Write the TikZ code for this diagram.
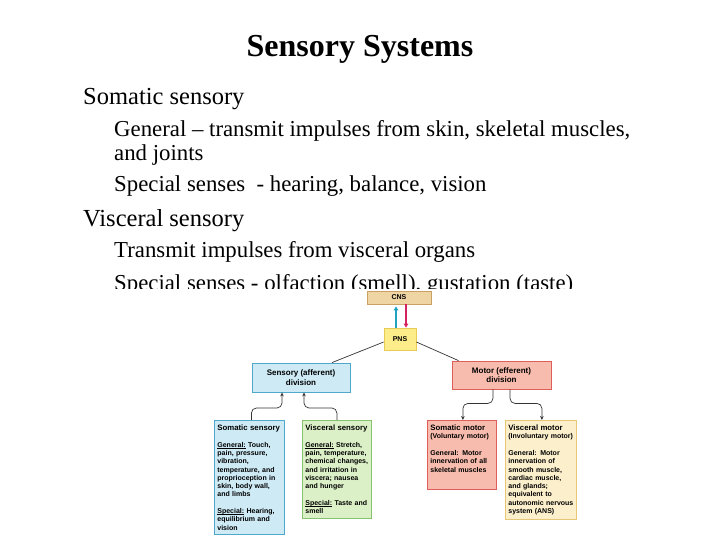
\documentclass[tikz,border=0pt]{standalone}
\usepackage{fontspec}
\setmainfont{Liberation Serif}
\newfontfamily\boxfont{Liberation Sans}
\usetikzlibrary{arrows.meta}
\definecolor{cnsfill}{HTML}{EFD5A4}
\definecolor{cnsline}{HTML}{C9A163}
\definecolor{pnsfill}{HTML}{FCEC8A}
\definecolor{pnsline}{HTML}{E6CB55}
\definecolor{sensfill}{HTML}{CDEAF5}
\definecolor{sensline}{HTML}{4FA8CB}
\definecolor{motfill}{HTML}{F7BCAD}
\definecolor{motline}{HTML}{DE5F59}
\definecolor{viscfill}{HTML}{DCF0C7}
\definecolor{viscline}{HTML}{86C36E}
\definecolor{vmotfill}{HTML}{FCF0CC}
\definecolor{vmotline}{HTML}{E7C678}
\definecolor{upcol}{HTML}{1EA2C0}
\definecolor{downcol}{HTML}{D42460}
\newcommand\uline[1]{\leavevmode\setbox0\hbox{#1}\rlap{\rule[-1.3pt]{\wd0}{0.45pt}}\box0\relax}
\newcommand\boxhead[1]{\mbox{\fontsize{7.8}{8.3}\selectfont #1}}

\begin{document}
\begin{tikzpicture}[x=1pt,y=1pt,
	textline/.style={anchor=base west, inner sep=0pt},
	lvlone/.style={textline, font=\fontsize{24.5}{29}\selectfont},
	lvltwo/.style={textline, font=\fontsize{22.8}{27}\selectfont},
	hdbox/.style={draw, line width=0.8pt, inner sep=0pt, align=center, font=\boxfont\bfseries\fontsize{8}{9.5}\selectfont},
	infobox/.style={draw, line width=0.8pt, anchor=north west, align=left, inner xsep=3pt, inner ysep=4.5pt, font=\boxfont\bfseries\fontsize{7}{8.3}\selectfont},
	conn/.style={draw=black!80, line width=0.7pt, rounded corners=5pt, -{Stealth[length=4pt,width=3.5pt]}}]

	\useasboundingbox (0,0) rectangle (720,-540);

	\node[font=\bfseries\fontsize{32}{38}\selectfont, anchor=base, inner sep=0pt] (title) at (360,-57) {Sensory Systems};
	\node[lvlone] (somatic) at (83,-105) {Somatic sensory};
	\node[lvltwo] (gen1) at (114,-137) {General – transmit impulses from skin, skeletal muscles,};
	\node[lvltwo] (gen2) at (114,-161) {and joints};
	\node[lvltwo] (spec1) at (114,-192) {Special senses\ \ - hearing, balance, vision};
	\node[lvlone] (visceral) at (83,-226) {Visceral sensory};
	\node[lvltwo] (trans) at (114,-258) {Transmit impulses from visceral organs};
	\begin{scope}
		\clip (0,-200) rectangle (720,-288);
		\node[lvltwo] (spec2) at (114,-290) {Special senses - olfaction (smell), gustation (taste)};
	\end{scope}

	\node[hdbox, fill=cnsfill, draw=cnsline, minimum width=64pt, minimum height=13pt, font=\boxfont\bfseries\fontsize{7}{8}\selectfont] (cns) at (399,-297.5) {CNS};
	\node[hdbox, fill=pnsfill, draw=pnsline, minimum width=32pt, minimum height=22pt, font=\boxfont\bfseries\fontsize{7}{8}\selectfont] (pns) at (400,-339) {PNS};
	\node[hdbox, fill=sensfill, draw=sensline, minimum width=98pt, minimum height=29pt] (sens) at (301,-377.5) {Sensory (afferent)\\division};
	\node[hdbox, fill=motfill, draw=motline, minimum width=99pt, minimum height=28pt] (motor) at (501.5,-375) {Motor (efferent)\\division};

	\draw[upcol, line width=1.6pt, -{Triangle[length=4pt,width=4.5pt]}] ([xshift=-4pt]pns.north) -- ([xshift=-3pt,yshift=-2pt]cns.south);
	\draw[downcol, line width=1.6pt, -{Triangle[length=4pt,width=4.5pt]}] ([xshift=7pt]cns.south) -- ([xshift=6pt]pns.north);
	\draw[black!80, line width=0.7pt] ([yshift=-3pt]pns.west) -- ([xshift=31pt]sens.north);
	\draw[black!80, line width=0.7pt] ([yshift=-3pt]pns.east) -- ([xshift=-43pt]motor.north);

	\node[infobox, fill=sensfill, draw=sensline, text width=64pt] (somsens) at (214,-420) {\boxhead{Somatic sensory}\\[8.3pt]
		\uline{General:} Touch,\\pain, pressure,\\vibration,\\temperature, and\\proprioception in\\skin, body wall,\\and limbs\\[8.3pt]
		\uline{Special:} Hearing,\\equilibrium and\\vision};
	\node[infobox, fill=viscfill, draw=viscline, text width=63pt] (viscsens) at (302,-420) {\boxhead{Visceral sensory}\\[8.3pt]
		\uline{General:} Stretch,\\pain, temperature,\\chemical changes,\\and irritation in\\viscera; nausea\\and hunger\\[8.3pt]
		\uline{Special:} Taste and\\smell};
	\node[infobox, fill=motfill, draw=motline, text width=63pt] (somotor) at (427,-420) {\boxhead{Somatic motor}\\(Voluntary motor)\\[8.3pt]
		General: Motor\\innervation of all\\skeletal muscles\\[5pt]~};
	\node[infobox, fill=vmotfill, draw=vmotline, text width=65pt] (vismotor) at (505,-420) {\boxhead{Visceral motor}\\(Involuntary motor)\\[8.3pt]
		General: Motor\\innervation of\\smooth muscle,\\cardiac muscle,\\and glands;\\equivalent to\\autonomic nervous\\system (ANS)};

	\draw[conn] ([xshift=2pt]somsens.north) -- ++(0,12) -| ([xshift=-19pt]sens.south);
	\draw[conn] (viscsens.north) -- ++(0,12) -| ([xshift=3pt]sens.south);
	\draw[conn] ([xshift=-8.5pt]motor.south) -- ++(0,-14) -| ([xshift=1pt]somotor.north);
	\draw[conn] ([xshift=8.5pt]motor.south) -- ++(0,-14) -| ([xshift=1pt]vismotor.north);
\end{tikzpicture}
\end{document}
